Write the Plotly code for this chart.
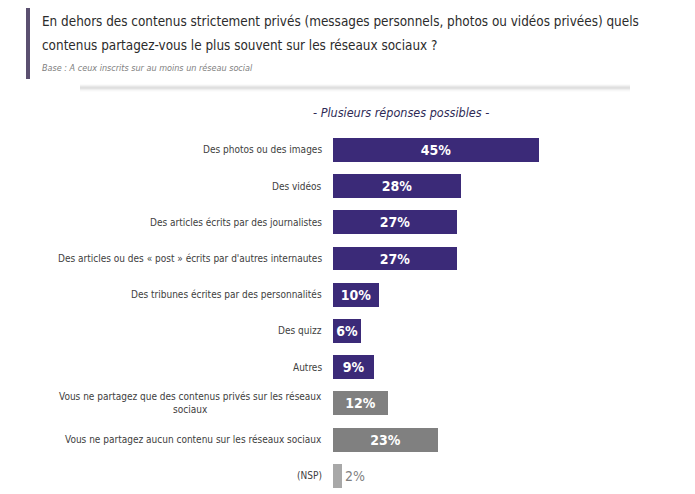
import plotly.graph_objects as go

FONT = "Liberation Sans Narrow, DejaVu Sans Condensed, Arial Narrow, sans-serif"
PURPLE = "#3b2a78"

categories = [
    "Des photos ou des images",
    "Des vidéos",
    "Des articles écrits par des journalistes",
    "Des articles ou des « post » écrits par d'autres internautes",
    "Des tribunes écrites par des personnalités",
    "Des quizz",
    "Autres",
    "Vous ne partagez que des contenus privés sur les réseaux<br>sociaux",
    "Vous ne partagez aucun contenu sur les réseaux sociaux",
    "(NSP)",
]
values = [45, 28, 27, 27, 10, 6, 9, 12, 23, 2]
bar_colors = [PURPLE] * 7 + ["#808080", "#808080", "#a8a8a8"]

title_lines = [
    "En dehors des contenus strictement privés (messages personnels, photos ou vidéos privées) quels",
    "contenus partagez-vous le plus souvent sur les réseaux sociaux ?",
]
subtitle = "Base : A ceux inscrits sur au moins un réseau social"
note = "- Plusieurs réponses possibles -"

rows = list(range(len(categories)))
labels = [f"<b>{v}%</b>" for v in values[:-1]] + [f"{values[-1]}%"]
text_pos = ["inside"] * (len(values) - 1) + ["outside"]
text_col = ["white"] * (len(values) - 1) + ["#7f7f7f"]

# page has an 8px body margin, so work in reference pixels minus 8
OFF = 8
W, H = 695 - OFF, 494 - OFF
L, R, T, B = 333 - OFF, 87, 131 - OFF, 0
pw, ph = W - L - R, H - T - B


def px(xp):
    return (xp - OFF - L) / pw


def py(yp):
    return (H - B - (yp - OFF)) / ph


fig = go.Figure()
fig.add_trace(go.Bar(
    x=values, y=rows, orientation="h", width=0.66,
    marker=dict(color=bar_colors, line=dict(width=0)),
    text=labels, textposition=text_pos, insidetextanchor="middle",
    textfont=dict(family=FONT, size=14, color=text_col),
    cliponaxis=False, showlegend=False, hoverinfo="skip",
))

# category labels as annotations so the two-line one is centred
for r, cat in zip(rows, categories):
    fig.add_annotation(
        x=0, y=r, xref="paper", yref="y", xanchor="right", yanchor="middle",
        xshift=-9, text=cat, showarrow=False, align="center",
        font=dict(family=FONT, size=10, color="#404040"),
    )

# header
fig.add_shape(type="rect", xref="paper", yref="paper",
              x0=px(26), x1=px(30), y0=py(79), y1=py(8),
              fillcolor="#5b5070", line=dict(width=0))
for i, op in enumerate([0.04, 0.09, 0.15, 0.18, 0.12, 0.06, 0.03]):
    fig.add_shape(type="line", xref="paper", yref="paper",
                  x0=px(80), x1=px(630), y0=py(85 + i), y1=py(85 + i),
                  line=dict(color=f"rgba(60,60,60,{op})", width=1))

for yy, line in zip([22, 45], title_lines):
    fig.add_annotation(
        x=px(40), y=py(yy), xref="paper", yref="paper", xanchor="left", yanchor="middle",
        text=line, showarrow=False, align="left",
        font=dict(family=FONT, size=13.4, color="#2b2b2b"),
    )
fig.add_annotation(
    x=px(40), y=py(68), xref="paper", yref="paper", xanchor="left", yanchor="middle",
    text=f"<i>{subtitle}</i>", showarrow=False, align="left",
    font=dict(family=FONT, size=9, color="#808080"),
)
fig.add_annotation(
    x=px(401), y=py(112), xref="paper", yref="paper", xanchor="center", yanchor="middle",
    text=f"<i>{note}</i>", showarrow=False,
    font=dict(family=FONT, size=12.5, color="#2e2a55"),
)

fig.update_layout(
    width=W, height=H,
    margin=dict(l=L, r=R, t=T, b=B),
    paper_bgcolor="white", plot_bgcolor="white",
    font=dict(family=FONT),
    xaxis=dict(range=[0, 60], visible=False, fixedrange=True),
    yaxis=dict(range=[9.5, -0.52], visible=False, fixedrange=True),
    bargap=0,
)

fig.write_html("out.html")
